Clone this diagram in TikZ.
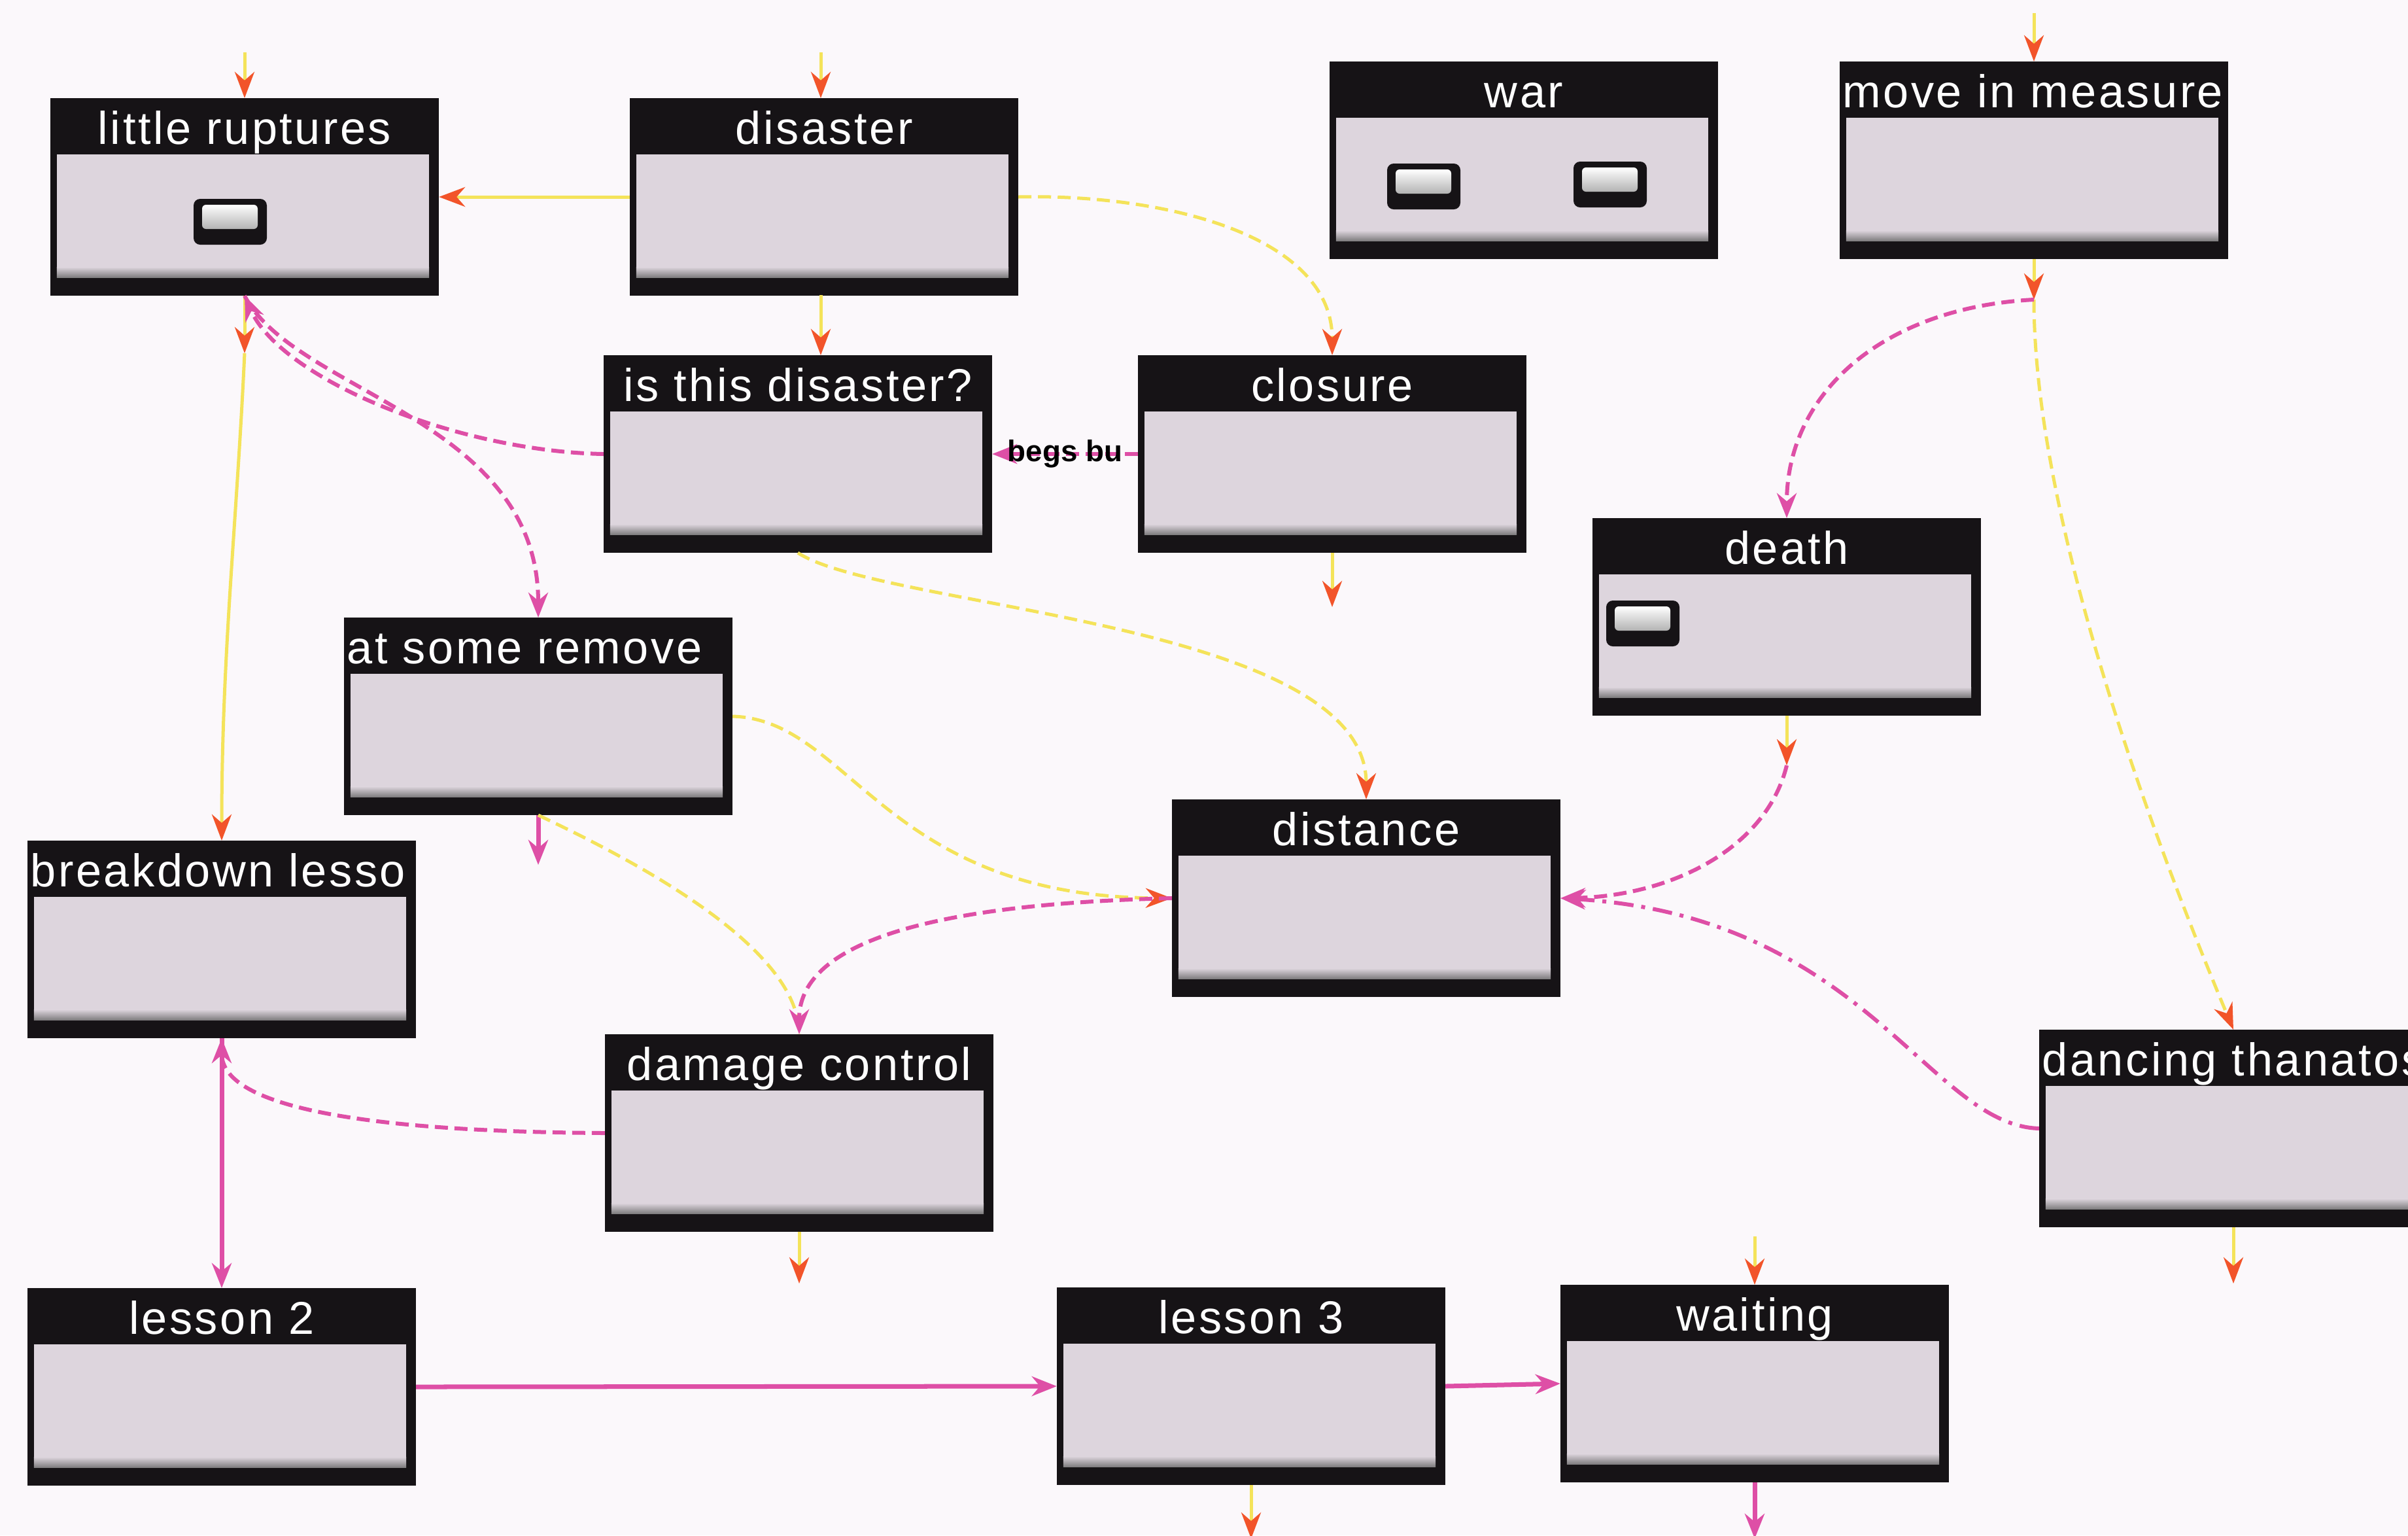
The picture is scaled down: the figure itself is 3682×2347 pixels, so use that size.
\documentclass[tikz,border=0pt]{standalone}
\usepackage{fontspec}
\setmainfont{Liberation Sans}
\newfontfamily\titlefont[LetterSpace=5]{Liberation Sans}
\usetikzlibrary{arrows.meta,calc}

\definecolor{bgcol}{HTML}{FBF8FB}
\definecolor{bodycol}{HTML}{DDD5DD}
\definecolor{framecol}{HTML}{161316}
\definecolor{ylw}{HTML}{F4E35A}
\definecolor{orng}{HTML}{F2542A}
\definecolor{mgn}{HTML}{DE4FA6}

\tikzset{
  notenode/.style={inner sep=0pt, outer sep=0pt, minimum width=5.94cm, minimum height=3.02cm},
  titletext/.style={text=white, font=\titlefont\fontsize{20}{24}\selectfont, inner sep=0pt},
  ylink/.style={draw=ylw, line width=0.05cm},
  ydash/.style={ylink, dash pattern=on 0.2cm off 0.1cm},
  ytip/.style={-{Stealth[length=0.4cm, width=0.3cm, color=orng]}},
  mlink/.style={draw=mgn, line width=0.06cm, dash pattern=on 0.2cm off 0.1cm},
  mlinklong/.style={draw=mgn, line width=0.06cm, dash pattern=on 0.3cm off 0.12cm on 0.06cm off 0.12cm},
  msolid/.style={draw=mgn, line width=0.07cm},
  mtip/.style={-{Stealth[length=0.38cm, width=0.3cm, color=mgn]}},
  lbl/.style={text=black, font=\bfseries\fontsize{13}{15}\selectfont, inner sep=1pt},
}

% frame and body of a note box; #1 name, #2 left edge, #3 top edge (pixels)
\newcommand{\noteframe}[3]{%
  \node[notenode] (#1) at ({#2+297},{#3+151}) {};
  \fill[framecol] (#1.north west) rectangle (#1.south east);
  \fill[bodycol] ($(#1.north west)+(10,86)$) rectangle ($(#1.south east)+(-15,-28)$);
  \shade[top color=bodycol, bottom color=framecol!55] ($(#1.south west)+(10,-44)$) rectangle ($(#1.south east)+(-15,-28)$);
}
% centred title
\newcommand{\notebox}[4]{%
  \noteframe{#1}{#2}{#3}
  \begin{scope}
    \clip ($(#1.north west)+(3,0)$) rectangle ($(#1.north east)+(-12,86)$);
    \node[titletext, anchor=base] (#1-t) at ($(#1.north)+(0,71)$) {#4};
  \end{scope}
}
% title that runs past the box: set from the left edge and cut off
\newcommand{\noteboxl}[4]{%
  \noteframe{#1}{#2}{#3}
  \begin{scope}
    \clip ($(#1.north west)+(3,0)$) rectangle ($(#1.north east)+(-12,86)$);
    \node[titletext, anchor=base west] (#1-t) at ($(#1.north west)+(4,71)$) {#4};
  \end{scope}
}
% small push button inside a note
\newcommand{\knob}[2]{%
  \fill[framecol, rounded corners=0.1cm] ({#1-56},{#2-34}) rectangle ({#1+56},{#2+36});
  \shade[top color=white, bottom color=black!30, rounded corners=0.06cm] ({#1-43},{#2-25}) rectangle ({#1+42},{#2+12});
}

\begin{document}
\begin{tikzpicture}[x=0.01cm, y=-0.01cm]
\useasboundingbox (0,0) rectangle (3682,2347);
\clip (0,0) rectangle (3682,2347);
\fill[bgcol] (0,0) rectangle (3682,2347);

% notes
\notebox{lr}{77}{150}{little ruptures}
\notebox{dis}{963}{150}{disaster}
\notebox{war}{2033}{94}{war}
\noteboxl{mim}{2813}{94}{move in measure}
\notebox{itd}{923}{543}{is this disaster?}
\notebox{clo}{1740}{543}{closure}
\notebox{death}{2435}{792}{death}
\noteboxl{asr}{526}{944}{at some remove}
\noteboxl{bl}{42}{1285}{breakdown lesson}
\notebox{dist}{1792}{1222}{distance}
\notebox{dc}{925}{1581}{damage control}
\noteboxl{dt}{3118}{1574}{dancing thanatos}
\notebox{l2}{42}{1969}{lesson 2}
\notebox{l3}{1616}{1968}{lesson 3}
\notebox{wait}{2386}{1964}{waiting}

% buttons
\knob{352}{338}
\knob{2177}{284}
\knob{2462}{281}
\knob{2512}{952}

% free ends of the short link stubs
\coordinate (lrin) at (374,80);
\coordinate (disin) at (1255,80);
\coordinate (mimin) at (3110,20);
\coordinate (waitin) at (2683,1890);
\coordinate (lrout) at (374,540);
\coordinate (mimout) at (3110,458);
\coordinate (deathout) at (2732,1170);
\coordinate (cloout) at (2037,928);
\coordinate (dcout) at (1222,1962);
\coordinate (dtout) at (3415,1962);
\coordinate (l3out) at (1913,2352);
\coordinate (waitout) at (2683,2352);
\coordinate (asrout) at (823,1322);
\coordinate (disfoot) at (1255,451);

% stubs
\draw[ylink, ytip] (lrin) -- (lr.north);
\draw[ylink, ytip] (disin) -- (disin |- dis.north);
\draw[ylink, ytip] (mimin) -- (mim.north);
\draw[ylink, ytip] (waitin) -- (wait.north);
\draw[ylink, ytip] (lr.south) -- (lrout);
\draw[ylink, ytip] (mim.south) -- (mimout);
\draw[ylink, ytip] (death.south) -- (deathout);
\draw[ylink, ytip] (clo.south) -- (cloout);
\draw[ylink, ytip] (dc.south) -- (dcout);
\draw[ylink, ytip] (dt.south) -- (dtout);
\draw[ylink, ytip] (l3.south) -- (l3out);
\draw[msolid, mtip] (wait.south) -- (waitout);
\draw[msolid, mtip] (asr.south) -- (asrout);

% yellow links
\draw[ylink, ytip] (dis.west) -- (lr.east);
\draw[ylink, ytip] (disfoot) -- (disfoot |- itd.north);
\draw[ydash, ytip] (dis.east) .. controls (1780,296) and (2037,360) .. (clo.north);
\draw[ylink, ytip] (lrout) .. controls (362,800) and (339,1000) .. (bl.north);
\draw[ydash, ytip] (mimout) .. controls (3110,800) and (3300,1300) .. (dt.north);
\draw[ydash, ytip] (itd.south) .. controls (1350,930) and (2089,950) .. (dist.north);
\draw[ydash, ytip] (asr.east) .. controls (1300,1100) and (1350,1370) .. (dist.west);
\draw[ydash] (asr.south) .. controls (980,1320) and (1222,1450) .. (dc.north);

% magenta links
\draw[mlink, mtip] (itd.west) .. controls (700,690) and (430,580) .. (lr.south);
\draw[mlink, mtip] (lr.south) .. controls (450,600) and (823,640) .. (asr.north);
\draw[mlink, mtip] (clo.west) -- (itd.east) node[lbl, midway] (begs) {begs bu};
\draw[mlink, mtip] (mimout) .. controls (2880,470) and (2732,600) .. (death.north);
\draw[mlink, mtip] (deathout) .. controls (2700,1300) and (2550,1370) .. (dist.east);
\draw[mlinklong, mtip] (dt.west) .. controls (2950,1720) and (2850,1400) .. (dist.east);
\draw[mlink, mtip] (dist.west) .. controls (1500,1380) and (1222,1420) .. (dc.north);
\draw[mlink, mtip] (dc.west) .. controls (600,1730) and (339,1700) .. (bl.south);
\draw[msolid, mtip] (bl.south) -- (l2.north);
\draw[msolid, mtip] (l2.east) -- (l3.west);
\draw[msolid, mtip] (l3.east) -- (wait.west);
\end{tikzpicture}
\end{document}
